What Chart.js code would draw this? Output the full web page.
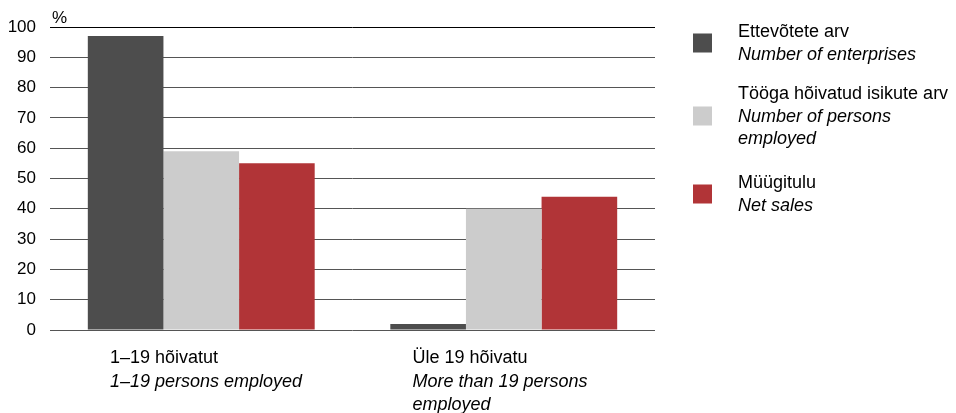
<!DOCTYPE html>
<html>
<head>
<meta charset="utf-8">
<script src="https://cdn.jsdelivr.net/npm/chart.js@4"></script>
<style>
  html, body { margin: 0; padding: 0; background: #fff; }
  #wrap { width: 956px; height: 413px; position: relative; }
</style>
</head>
<body>
<div id="wrap"><canvas id="chart" width="956" height="413"></canvas></div>
<script>
// categories, first line Estonian, next lines English (italic)
const categories = [
  ["1–19 hõivatut", "1–19 persons employed"],
  ["Üle 19 hõivatu", "More than 19 persons", "employed"]
];
const seriesLabels = [
  ["Ettevõtete arv", "Number of enterprises"],
  ["Tööga hõivatud isikute arv", "Number of persons", "employed"],
  ["Müügitulu", "Net sales"]
];
const enterprises = [97, 2];
const personsEmployed = [59, 40];
const netSales = [55, 44];
const yTicks = [0, 10, 20, 30, 40, 50, 60, 70, 80, 90, 100];
const colors = ["#4d4d4d", "#cccccc", "#b13437"];

const FONT = "'Liberation Sans', Arial, sans-serif";

// draws the two-language category labels and the legend on the right
const textPlugin = {
  id: "textPlugin",
  afterDraw(chart) {
    const ctx = chart.ctx;
    const area = chart.chartArea;
    const x = chart.scales.x;
    ctx.save();
    ctx.fillStyle = "#000";
    ctx.textBaseline = "middle";
    ctx.textAlign = "left";

    // "%" unit above the axis
    ctx.font = "17px " + FONT;
    ctx.fillText("%", area.left + 2, area.top - 9);

    // category labels
    const catW = (area.right - area.left) / categories.length;
    categories.forEach((lines, i) => {
      const lx = x.getPixelForValue(i) - catW / 2 + 60;
      lines.forEach((t, j) => {
        ctx.font = (j === 0 ? "" : "italic ") + "18px " + FONT;
        ctx.fillText(t, lx, area.bottom + 28 + j * 23.5);
      });
    });

    // legend
    const tops = [32, 94, 183];
    seriesLabels.forEach((lines, i) => {
      const y0 = tops[i];
      const mid = y0 + (lines.length - 1) * 22 / 2;
      ctx.fillStyle = colors[i];
      ctx.fillRect(693, mid - 9.5, 19, 19);
      ctx.fillStyle = "#000";
      lines.forEach((t, j) => {
        ctx.font = (j === 0 ? "" : "italic ") + "18px " + FONT;
        ctx.fillText(t, 738, y0 + j * 22.5);
      });
    });
    ctx.restore();
  }
};

const ctx = document.getElementById("chart").getContext("2d");
new Chart(ctx, {
  type: "bar",
  data: {
    labels: categories.map(c => c[0]),
    datasets: [
      { label: seriesLabels[0][0], data: enterprises, backgroundColor: colors[0] },
      { label: seriesLabels[1][0], data: personsEmployed, backgroundColor: colors[1] },
      { label: seriesLabels[2][0], data: netSales, backgroundColor: colors[2] }
    ]
  },
  options: {
    responsive: false,
    animation: false,
    devicePixelRatio: 1,
    categoryPercentage: 0.75,
    barPercentage: 1,
    layout: { padding: { left: 0, right: 301, top: 27, bottom: 83 } },
    plugins: {
      legend: { display: false },
      tooltip: { enabled: false }
    },
    scales: {
      x: {
        ticks: { display: false },
        grid: { display: false, drawTicks: false },
        border: { display: false }
      },
      y: {
        min: 0,
        max: 100,
        afterFit(scale) { scale.width = 50; },
        afterBuildTicks(scale) { scale.ticks = yTicks.map(v => ({ value: v })); },
        ticks: {
          padding: 14,
          color: "#000",
          font: { family: FONT, size: 17 }
        },
        grid: {
          drawTicks: false,
          color: ctx => ctx.tick && ctx.tick.value === 100 ? "#000" : "#555",
          lineWidth: 1
        },
        border: { display: false }
      }
    }
  },
  plugins: [textPlugin]
});
</script>
</body>
</html>
